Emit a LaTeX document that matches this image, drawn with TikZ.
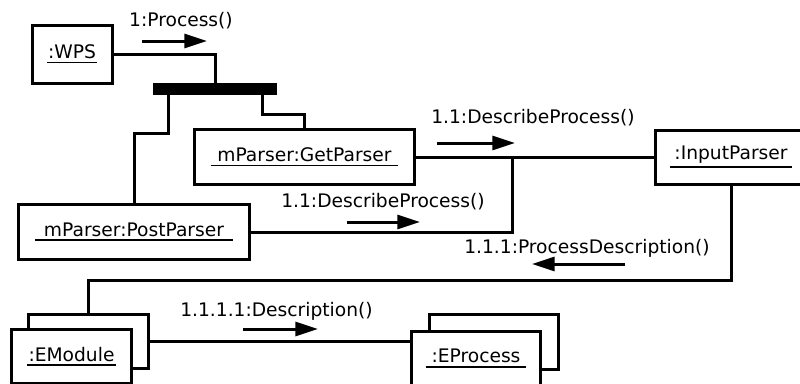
\documentclass[tikz,border=0pt]{standalone}
\usepackage{fontspec}
\setmainfont{DejaVu Sans}
\usetikzlibrary{arrows.meta,calc}
\newcommand\px{0.75pt}
\newcommand\ulab[2]{\vbox{\hbox{\hspace{#1}#2\hspace{#1}}\kern2pt\hrule height 1.3pt}}
\tikzset{
  obj/.style={draw=black, fill=white, line width=2.25pt, rectangle, inner sep=0pt,
    font=\fontsize{14pt}{16pt}\selectfont},
  lbl/.style={inner sep=0pt, font=\fontsize{14pt}{16pt}\selectfont},
  conn/.style={line width=2.25pt, line join=miter},
  msg/.style={line width=2.25pt, -{Triangle[length=17pt, width=10.5pt]}},
  barstyle/.style={fill=black, draw=none, rectangle, inner sep=0pt}
}
\begin{document}
\begin{tikzpicture}[x=0.75pt,y=-0.75pt]
\clip (0,0) rectangle (800,383);
\fill[white] (0,0) rectangle (800,383);
% objects
\node[obj, minimum width=80*\px, minimum height=58*\px] (wps) at (72,54) {\ulab{0.5pt}{:WPS}};
\node[barstyle, minimum width=124*\px, minimum height=12*\px] (bar) at (215,89) {};
\node[obj, minimum width=220*\px, minimum height=55*\px] (get) at (304.5,157) {\ulab{5pt}{mParser:GetParser}};
\node[obj, minimum width=231*\px, minimum height=55*\px] (post) at (134,232) {\ulab{6.5pt}{mParser:PostParser}};
\node[obj, minimum width=152*\px, minimum height=54*\px] (input) at (731,157) {\ulab{3.5pt}{:InputParser}};
\node[obj, minimum width=120*\px, minimum height=54*\px] (emback) at (88.5,341.5) {};
\node[obj, minimum width=120*\px, minimum height=54*\px] (emfront) at (71.5,356.5) {\ulab{1pt}{:EModule}};
\node[obj, minimum width=129*\px, minimum height=55*\px] (epback) at (494,342) {};
\node[obj, minimum width=129*\px, minimum height=55*\px] (epfront) at (476,358.5) {\ulab{4.5pt}{:EProcess}};
% helper coordinates
\coordinate (bl) at (168,0);
\coordinate (br) at (262,0);
\coordinate (jn) at (512,157);
\coordinate (lp) at (0,280);
% connectors
\draw[conn] (wps.east) -| (bar.north);
\draw[conn] (bar.south -| bl) -- ++(0,38) -| (post.north);
\draw[conn] (bar.south -| br) -- ++(0,19) -| (get.north);
\draw[conn] (get.east) -- (input.west);
\draw[conn] (jn) |- (post.east);
\draw[conn] (input.south) -- (input.south |- lp) -| (emback.north);
\draw[conn] (emback.east) -- (emback.east -| epfront.west);
% message arrows
\coordinate (a1s) at (142,41); \coordinate (a1e) at (207,41);
\coordinate (a2s) at (437,143); \coordinate (a2e) at (515,143);
\coordinate (a3s) at (347,222); \coordinate (a3e) at (420,222);
\coordinate (a4s) at (625,264); \coordinate (a4e) at (532,264);
\coordinate (a5s) at (243,329); \coordinate (a5e) at (318,329);
\draw[msg] (a1s) -- (a1e);
\draw[msg] (a2s) -- (a2e);
\draw[msg] (a3s) -- (a3e);
\draw[msg] (a4s) -- (a4e);
\draw[msg] (a5s) -- (a5e);
% labels
\node[lbl] (l1) at (181,21) {1:Process()};
\node[lbl] (l2) at (533,118) {1.1:DescribeProcess()};
\node[lbl] (l3) at (383,202) {1.1:DescribeProcess()};
\node[lbl] (l4) at (587,248) {1.1.1:ProcessDescription()};
\node[lbl] (l5) at (276.5,311) {1.1.1.1:Description()};
\end{tikzpicture}
\end{document}
